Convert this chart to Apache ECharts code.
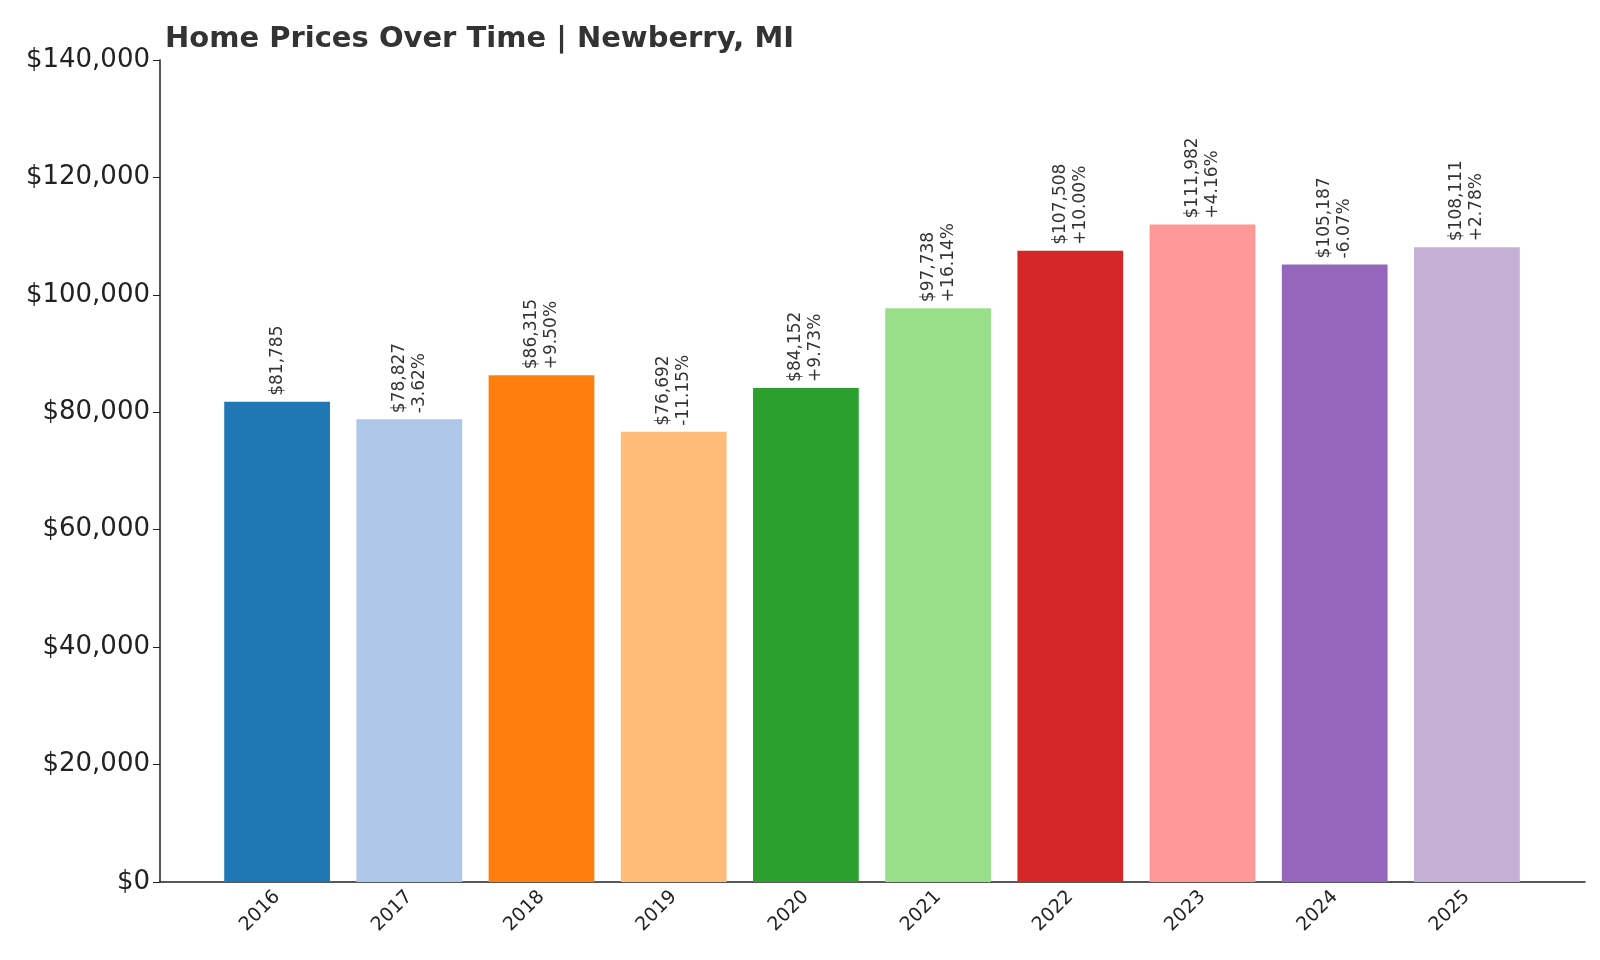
<!DOCTYPE html>
<html><head><meta charset="utf-8">
<script src="https://cdn.jsdelivr.net/npm/echarts@6/dist/echarts.min.js"></script>
<style>html,body{margin:0;background:#fff}#c{width:1600px;height:960px}</style>
</head><body><div id="c"></div>
<script>
var years = ['2016','2017','2018','2019','2020','2021','2022','2023','2024','2025'];
var prices = [81785, 78827, 86315, 76692, 84152, 97738, 107508, 111982, 105187, 108111];
var changes = ['', '-3.62%', '+9.50%', '-11.15%', '+9.73%', '+16.14%', '+10.00%', '+4.16%', '-6.07%', '+2.78%'];
var colors = ['#1f77b4','#aec7e8','#ff7f0e','#ffbb78','#2ca02c','#98df8a','#d62728','#ff9896','#9467bd','#c5b0d5'];

var chart = echarts.init(document.getElementById('c'));
var fmt = function (v) { return '$' + v.toLocaleString('en-US'); };
chart.setOption({
    animation: false,
    title: { text: 'Home Prices Over Time | Newberry, MI', left: 160, top: 20,
        textStyle: { fontFamily: 'DejaVu Sans', fontSize: 29, fontWeight: 'bold', color: '#333' } },
    grid: [
        { left: 211, width: 1322, top: 60, bottom: 78 },
        { left: 160, right: 15, top: 60, bottom: 78 }
    ],
    xAxis: [
        { type: 'category', data: years, gridIndex: 0,
          axisLine: { show: false },
          axisTick: { alignWithLabel: true, length: 7, lineStyle: { color: '#222' } },
          axisLabel: { rotate: 45, fontSize: 19, color: '#222', fontFamily: 'DejaVu Sans', margin: 12 } },
        { type: 'value', gridIndex: 1, min: 0, max: 1,
          axisLine: { show: true, lineStyle: { color: '#222', width: 1.5 } },
          axisTick: { show: false }, axisLabel: { show: false }, splitLine: { show: false } }
    ],
    yAxis: [
        { type: 'value', gridIndex: 0, min: 0, max: 140000, show: false, splitLine: { show: false } },
        { type: 'value', gridIndex: 1, min: 0, max: 140000, interval: 20000,
          axisLine: { show: true, lineStyle: { color: '#222', width: 1.5 } },
          axisTick: { show: true, length: 7, lineStyle: { color: '#222' } },
          splitLine: { show: false },
          axisLabel: { formatter: fmt, fontSize: 26, color: '#222', fontFamily: 'DejaVu Sans', margin: 10 } }
    ],
    series: [{
        type: 'bar', xAxisIndex: 0, yAxisIndex: 0, barWidth: '80%',
        data: prices.map(function (v, i) { return { value: v, itemStyle: { color: colors[i] } }; }),
        label: {
            show: true, position: 'top', rotate: 90, align: 'left', verticalAlign: 'middle', distance: 6,
            fontSize: 17, color: '#333', fontFamily: 'DejaVu Sans', lineHeight: 20,
            formatter: function (p) {
                var c = changes[p.dataIndex];
                return fmt(p.value) + (c ? '\n' + c : '');
            }
        }
    }]
});
</script></body></html>
